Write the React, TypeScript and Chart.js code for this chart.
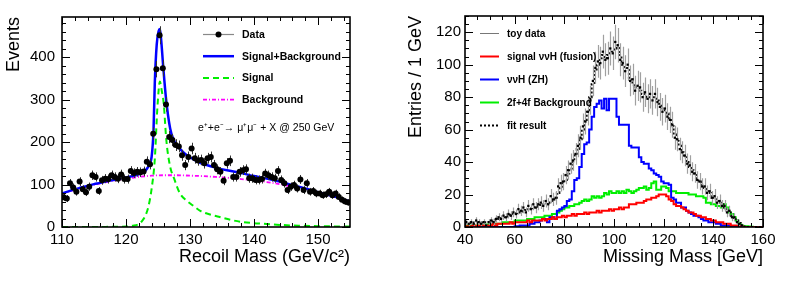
import React, { useEffect, useRef } from "react";
import { Chart, registerables } from "chart.js";

Chart.register(...registerables);

const FONT = "'Liberation Sans', Arial, Helvetica, sans-serif";

// ---------------- Left panel: recoil mass ----------------
const RECOIL_BIN_LOW = 110;
const RECOIL_BIN_WIDTH = 0.5;
const recoilCounts = [
  70, 67, 103, 93, 83, 107, 89, 82, 95, 122,
  118, 85, 110, 114, 113, 122, 118, 114, 124, 113,
  113, 132, 127, 130, 129, 131, 154, 148, 220, 372,
  452, 374, 289, 212, 205, 193, 190, 169, 146, 165,
  185, 162, 157, 158, 150, 162, 165, 146, 136, 130,
  109, 150, 156, 118, 118, 130, 134, 136, 115, 115,
  111, 111, 113, 126, 122, 118, 115, 132, 111, 103,
  87, 95, 99, 91, 112, 87, 103, 83, 85, 79,
  79, 75, 77, 83, 75, 79, 71, 64, 60, 58,
];

const sbX = [110, 111, 112, 113, 114, 115, 116, 117, 118, 119, 120, 121, 122, 122.8, 123.3, 123.7, 124.0, 124.3, 124.5, 124.8, 125.1, 125.3, 125.5, 125.8, 126.25, 126.9, 127.4, 127.9, 128.5, 129.5, 130.5, 131.5, 132.6, 134, 136, 138, 140, 142, 144, 146, 148, 150, 152, 154, 155];
const sbY = [79, 84, 89, 93, 97, 101, 104, 108, 111, 114, 117, 120, 124, 130, 138, 150, 165, 228, 340, 430, 462, 467, 440, 381, 303, 232, 207, 193, 183, 169, 160, 152, 146, 140, 133, 127, 120, 114, 107, 99, 91, 82, 74, 65, 60];

const sigX = [110, 115, 118, 120, 121, 122, 122.5, 123, 123.5, 124, 124.5, 124.9, 125.3, 125.6, 125.9, 126.3, 126.9, 127.5, 128.4, 129.5, 130.5, 131.6, 133, 134.5, 136.3, 138, 140, 142, 144, 147, 150, 155];
const sigY = [0, 0, 0.5, 1, 3, 7, 14, 26, 48, 90, 160, 280, 343, 320, 290, 205, 142, 115, 80, 62, 50, 38, 30, 24, 17, 12, 9, 7, 5, 3, 2, 1];

const bkgX = [110, 112, 114, 116, 118, 120, 122, 124, 126, 128, 130, 132, 134, 136, 138, 140, 142, 144, 146, 148, 150, 152, 154, 155];
const bkgY = [78, 88, 96, 103, 109, 114, 118, 121, 122, 122, 121, 120, 118, 116, 113, 110, 106, 101, 95, 89, 82, 74, 65, 60];

const recoilXTickLabels = [110, 120, 130, 140, 150];
const recoilYTickLabels = [0, 100, 200, 300, 400];
const recoilXTicks = { min: 110, max: 155, step: 10, minor: 2 };
const recoilYTicks = { min: 0, max: 495, step: 100, minor: 20 };

// ---------------- Right panel: missing mass ----------------
const MM_BIN_LOW = 40;
const MM_BIN_WIDTH = 1;
const toyData = [
  3, 2, 3, 2, 4, 3, 2, 3, 1, 3,
  4, 3, 5, 6, 5, 7, 6, 8, 7, 9,
  8, 11, 10, 12, 9, 13, 11, 14, 12, 14,
  15, 13, 16, 14, 19, 17, 18, 25, 27, 28,
  32, 35, 39, 41, 45, 50, 55, 62, 65, 71,
  78, 90, 98, 102, 101, 108, 103, 104, 110, 107,
  114, 112, 103, 101, 96, 100, 90, 91, 84, 87,
  86, 80, 83, 79, 82, 78, 82, 77, 74, 71,
  73, 68, 66, 63, 55, 54, 48, 46, 44, 39,
  38, 34, 33, 29, 28, 25, 25, 21, 22, 18,
  19, 15, 16, 13, 13, 9, 10, 6, 6, 3,
  2, 1, 0, 0, 0, 0, 0, 0, 0, 0,
];
const fitResult = [
  2.5, 2.5, 2.5, 2.7, 2.7, 2.8, 2.8, 3, 3, 3,
  3.5, 4, 4.5, 5, 5.5, 6, 6.5, 7, 7.5, 8,
  8.5, 9, 9.5, 10, 10.5, 11, 11.5, 12, 12.5, 13,
  13.5, 14, 14.5, 15, 16, 17, 18, 21, 24, 27,
  29, 33, 36, 40, 44, 48, 54, 60, 66, 72,
  80, 88, 96, 100, 104, 106, 104, 106, 107, 108,
  110, 112, 106, 100, 98, 98, 92, 89, 86, 86,
  84, 82, 82, 80, 80, 80, 80, 78, 76, 73,
  72, 70, 67, 62, 57, 53, 50, 46, 43, 40,
  37, 35, 32, 30, 28, 26, 24, 22, 21, 19,
  18, 16, 15, 14, 12, 10, 9, 7, 5.5, 4,
  2.5, 1.2, 0.3, 0, 0, 0, 0, 0, 0, 0,
];
const fusionSignal = [
  0.5, 0.5, 0.5, 1, 0.5, 1, 1, 1, 1, 1,
  1, 2, 1, 2, 2, 2, 2, 2, 3, 2,
  3, 3, 3, 3, 3, 4, 3, 4, 4, 4,
  4, 5, 4, 5, 5, 6, 5, 6, 6, 7,
  6, 7, 7, 8, 7, 8, 8, 8, 9, 8,
  9, 9, 9, 10, 9, 10, 10, 10, 11, 10,
  11, 11, 12, 11, 12, 12, 14, 14, 14, 15,
  15, 15, 16, 17, 17, 18, 18, 19, 20, 20,
  20, 19, 17, 16, 14, 13, 13, 12, 11, 10,
  9, 9, 8, 7, 7, 6, 6, 5, 5, 4,
  4, 3, 3, 3, 2, 2, 2, 1, 1, 1,
  0.5, 0.3, 0, 0, 0, 0, 0, 0, 0, 0,
];
const zhSignal = [
  0, 0, 0, 0, 0, 0, 0, 0, 0, 0,
  0, 0, 0, 0, 0, 0, 0, 0, 0, 0,
  0.5, 0.5, 1, 1, 1, 1, 2, 2, 3, 3,
  4, 5, 5, 3, 6, 6, 5, 10, 11, 12,
  13, 16, 17, 22, 29, 30, 37, 45, 51, 52,
  60, 68, 74, 76, 78, 73, 79, 72, 79, 79,
  79, 68, 63, 63, 63, 63, 50, 49, 49, 49,
  43, 40, 39, 39, 36, 35, 33, 32, 31, 28,
  27, 27, 26, 18, 17, 15, 15, 12, 12, 10,
  9, 8, 7, 7, 6, 5, 4, 4, 3, 3,
  3, 2, 2, 1, 1, 1, 1, 0.5, 0.5, 0.5,
  0.5, 0, 0, 0, 0, 0, 0, 0, 0, 0,
];
const bkg2f4f = [
  1, 1, 1, 1, 1, 1, 1, 1, 1.5, 1.5,
  1.5, 2, 2, 2, 2, 3, 3, 3, 3, 3,
  4, 4, 4, 4, 4, 5, 5, 5, 6, 6,
  6, 6, 7, 7, 7, 8, 8, 9, 10, 11,
  12, 12, 13, 13, 14, 14, 15, 16, 17, 16,
  17, 19, 18, 19, 18, 19, 21, 20, 22, 21,
  21, 22, 21, 22, 21, 23, 22, 21, 22, 23,
  24, 24, 25, 23, 24, 27, 28, 23, 23, 25,
  25, 24, 22, 22, 22, 21, 21, 21, 21, 21,
  20, 20, 20, 19, 19, 19, 18, 15, 15, 14,
  14, 13, 13, 12, 14, 12, 9, 8, 6, 4,
  2, 1, 0.5, 0.5, 0.3, 0.2, 0, 0, 0, 0,
];

const mmXTickLabels = [40, 60, 80, 100, 120, 140, 160];
const mmYTickLabels = [0, 20, 40, 60, 80, 100, 120];
const mmXTicks = { min: 40, max: 160, step: 20, minor: 5 };
const mmYTicks = { min: 0, max: 130, step: 20, minor: 5 };

// ---------------- helpers ----------------
const xy = (xs: number[], ys: number[]) => xs.map((x, i) => ({ x, y: ys[i] }));

function histSteps(values: number[], low: number, width: number) {
  const pts = values.map((v, i) => ({ x: low + i * width, y: v }));
  pts.push({ x: low + values.length * width, y: values[values.length - 1] });
  return pts;
}

function binPoints(values: number[], low: number, width: number) {
  return values
    .map((v, i) => ({ x: low + (i + 0.5) * width, y: v, e: Math.sqrt(v) }))
    .filter((p) => p.y > 0);
}

// ---------------- plugins ----------------
const rootFramePlugin = {
  id: "rootFrame",
  afterDatasetsDraw(chart: any, _a: any, opts: any) {
    if (!opts || !opts.x) return;
    const { ctx, chartArea: a, scales } = chart;
    const xs = scales.x;
    const ys = scales.y;
    ctx.save();
    ctx.strokeStyle = "#000";
    ctx.lineWidth = 1;
    ctx.setLineDash([]);
    const ML = opts.majorLen;
    const mL = opts.minorLen;
    const ticks = (t: any) => {
      const out: { v: number; major: boolean }[] = [];
      const n = Math.round((t.max - t.min) / t.minor);
      for (let k = 0; k <= n; k++) {
        const v = t.min + k * t.minor;
        if (v > t.max + 1e-9) break;
        const r = (v - t.min) / t.step;
        out.push({ v, major: Math.abs(r - Math.round(r)) < 1e-6 });
      }
      return out;
    };
    ctx.beginPath();
    for (const t of ticks(opts.x)) {
      const px = Math.round(xs.getPixelForValue(t.v)) + 0.5;
      const len = t.major ? ML : mL;
      ctx.moveTo(px, a.bottom);
      ctx.lineTo(px, a.bottom - len);
      ctx.moveTo(px, a.top);
      ctx.lineTo(px, a.top + len);
    }
    for (const t of ticks(opts.y)) {
      const py = Math.round(ys.getPixelForValue(t.v)) + 0.5;
      const len = t.major ? ML : mL;
      ctx.moveTo(a.left, py);
      ctx.lineTo(a.left + len, py);
      ctx.moveTo(a.right, py);
      ctx.lineTo(a.right - len, py);
    }
    ctx.stroke();
    ctx.lineWidth = 1.6;
    ctx.strokeRect(a.left, a.top, a.right - a.left, a.bottom - a.top);
    ctx.restore();
  },
};

const errorBarPlugin = {
  id: "errorBars",
  beforeDatasetDraw(chart: any, args: any) {
    const ds = chart.data.datasets[args.index];
    if (!ds.errorColor) return;
    const { ctx, chartArea: a } = chart;
    const ys = chart.scales.y;
    ctx.save();
    ctx.beginPath();
    ctx.rect(a.left, a.top, a.right - a.left, a.bottom - a.top);
    ctx.clip();
    ctx.strokeStyle = ds.errorColor;
    ctx.lineWidth = ds.errorWidth || 1;
    ctx.beginPath();
    args.meta.data.forEach((el: any, i: number) => {
      const raw = ds.data[i];
      const px = Math.round(el.x) + 0.5;
      ctx.moveTo(px, ys.getPixelForValue(raw.y + raw.e));
      ctx.lineTo(px, ys.getPixelForValue(raw.y - raw.e));
    });
    ctx.stroke();
    ctx.restore();
  },
};

const rootLegendPlugin = {
  id: "rootLegend",
  afterDraw(chart: any, _a: any, opts: any) {
    if (!opts || !opts.order) return;
    const ctx = chart.ctx;
    ctx.save();
    opts.order.forEach((idx: number, k: number) => {
      const ds = chart.data.datasets[idx];
      const y = opts.top + k * opts.dy;
      ctx.beginPath();
      ctx.setLineDash(ds.legendDash || ds.borderDash || []);
      ctx.strokeStyle = ds.legendLineColor || ds.borderColor;
      ctx.lineWidth = ds.legendLineWidth || ds.borderWidth || 1;
      ctx.moveTo(opts.x0, y + 0.5);
      ctx.lineTo(opts.x1, y + 0.5);
      ctx.stroke();
      ctx.setLineDash([]);
      if (ds.legendMarker) {
        ctx.fillStyle = "#000";
        ctx.beginPath();
        ctx.arc((opts.x0 + opts.x1) / 2, y + 0.5, 3, 0, Math.PI * 2);
        ctx.fill();
      }
      ctx.fillStyle = "#000";
      ctx.font = opts.font;
      ctx.textBaseline = "middle";
      ctx.textAlign = "left";
      ctx.fillText(ds.label, opts.textX, y + 1);
    });
    if (opts.note) {
      ctx.font = opts.note.font;
      ctx.fillStyle = "#000";
      ctx.textBaseline = "middle";
      ctx.textAlign = "left";
      ctx.fillText(opts.note.text, opts.note.x, opts.note.y);
    }
    ctx.restore();
  },
};

function axisScales(
  xt: any,
  yt: any,
  xLabels: number[],
  yLabels: number[],
  xTitle: string,
  yTitle: string,
  yWidth: number,
  xHeight: number,
  yTickPad: number,
  yTitlePad: number,
  xTitlePad: number
) {
  const tickFont = { family: FONT, size: 15 };
  const titleFont = { family: FONT, size: 18 };
  return {
    x: {
      type: "linear",
      min: xt.min,
      max: xt.max,
      grid: { display: false, drawTicks: false },
      border: { display: false },
      ticks: {
        autoSkip: false,
        maxRotation: 0,
        color: "#000",
        font: tickFont,
        padding: 4,
      },
      afterBuildTicks: (s: any) => {
        s.ticks = xLabels.map((v) => ({ value: v }));
      },
      title: {
        display: true,
        text: xTitle,
        align: "end",
        color: "#000",
        font: titleFont,
        padding: { top: 0, bottom: xTitlePad },
      },
      afterFit: (s: any) => {
        s.height = xHeight;
      },
    },
    y: {
      type: "linear",
      min: yt.min,
      max: yt.max,
      grid: { display: false, drawTicks: false },
      border: { display: false },
      ticks: {
        autoSkip: false,
        color: "#000",
        font: tickFont,
        padding: yTickPad,
      },
      afterBuildTicks: (s: any) => {
        s.ticks = yLabels.map((v) => ({ value: v }));
      },
      title: {
        display: true,
        text: yTitle,
        align: "end",
        color: "#000",
        font: titleFont,
        padding: { top: yTitlePad, bottom: 0 },
      },
      afterFit: (s: any) => {
        s.width = yWidth;
      },
    },
  };
}

function leftConfig(): any {
  return {
    type: "line",
    data: {
      datasets: [
        {
          label: "Data",
          data: binPoints(recoilCounts, RECOIL_BIN_LOW, RECOIL_BIN_WIDTH),
          showLine: false,
          pointRadius: 3,
          pointStyle: "circle",
          pointBackgroundColor: "#000",
          pointBorderColor: "#000",
          pointBorderWidth: 0,
          borderColor: "#000",
          errorColor: "#333",
          errorWidth: 1,
          legendMarker: true,
          legendLineColor: "#888",
          legendLineWidth: 1.2,
        },
        {
          label: "Signal+Background",
          data: xy(sbX, sbY),
          borderColor: "#0000ff",
          borderWidth: 2.5,
          pointRadius: 0,
          cubicInterpolationMode: "monotone",
        },
        {
          label: "Signal",
          data: xy(sigX, sigY),
          borderColor: "#00ee00",
          borderWidth: 2,
          borderDash: [6, 4],
          pointRadius: 0,
          cubicInterpolationMode: "monotone",
        },
        {
          label: "Background",
          data: xy(bkgX, bkgY),
          borderColor: "#ff00ff",
          borderWidth: 1.8,
          borderDash: [4, 2, 1, 2],
          pointRadius: 0,
          cubicInterpolationMode: "monotone",
        },
      ],
    },
    options: {
      responsive: false,
      maintainAspectRatio: false,
      animation: false,
      events: [],
      layout: { padding: { left: 0, top: 17, right: 30, bottom: 0 } },
      scales: axisScales(
        recoilXTicks,
        recoilYTicks,
        recoilXTickLabels,
        recoilYTickLabels,
        "Recoil Mass (GeV/c²)",
        "Events",
        62,
        57,
        7,
        3,
        16
      ),
      plugins: {
        legend: { display: false },
        tooltip: { enabled: false },
        rootFrame: { x: recoilXTicks, y: recoilYTicks, majorLen: 8, minorLen: 4 },
        rootLegend: {
          order: [0, 1, 2, 3],
          top: 34,
          dy: 21.7,
          x0: 203,
          x1: 234,
          textX: 242,
          font: `bold 10.5px ${FONT}`,
          note: { text: "e⁺+e⁻→ μ⁺μ⁻ + X @ 250 GeV", x: 198, y: 128, font: `10.5px ${FONT}` },
        },
      },
    },
    plugins: [errorBarPlugin, rootFramePlugin, rootLegendPlugin],
  };
}

function rightConfig(): any {
  return {
    type: "line",
    data: {
      datasets: [
        {
          label: "toy data",
          data: binPoints(toyData, MM_BIN_LOW, MM_BIN_WIDTH),
          showLine: false,
          pointRadius: 1.6,
          pointStyle: "rect",
          pointBackgroundColor: "#000",
          pointBorderColor: "#000",
          pointBorderWidth: 0,
          borderColor: "#777",
          borderWidth: 1,
          errorColor: "#a0a0a0",
          errorWidth: 1.2,
        },
        {
          label: "fit result",
          data: histSteps(fitResult, MM_BIN_LOW, MM_BIN_WIDTH),
          stepped: "before",
          borderColor: "#000",
          borderWidth: 2,
          borderDash: [2, 2],
          pointRadius: 0,
        },
        {
          label: "signal ννH (fusion)",
          data: histSteps(fusionSignal, MM_BIN_LOW, MM_BIN_WIDTH),
          stepped: "before",
          borderColor: "#ff0000",
          borderWidth: 2,
          pointRadius: 0,
        },
        {
          label: "ννH (ZH)",
          data: histSteps(zhSignal, MM_BIN_LOW, MM_BIN_WIDTH),
          stepped: "before",
          borderColor: "#0000ff",
          borderWidth: 2,
          pointRadius: 0,
        },
        {
          label: "2f+4f Background",
          data: histSteps(bkg2f4f, MM_BIN_LOW, MM_BIN_WIDTH),
          stepped: "before",
          borderColor: "#00ee00",
          borderWidth: 2,
          pointRadius: 0,
        },
      ],
    },
    options: {
      responsive: false,
      maintainAspectRatio: false,
      animation: false,
      events: [],
      layout: { padding: { left: 0, top: 16, right: 26, bottom: 0 } },
      scales: axisScales(
        mmXTicks,
        mmYTicks,
        mmXTickLabels,
        mmYTickLabels,
        "Missing Mass [GeV]",
        "Entries / 1 GeV",
        85,
        57,
        4,
        25,
        16
      ),
      plugins: {
        legend: { display: false },
        tooltip: { enabled: false },
        rootFrame: { x: mmXTicks, y: mmYTicks, majorLen: 8, minorLen: 4 },
        rootLegend: {
          order: [0, 2, 3, 4, 1],
          top: 33,
          dy: 23,
          x0: 100,
          x1: 119,
          textX: 127,
          font: `bold 10px ${FONT}`,
        },
      },
    },
    plugins: [errorBarPlugin, rootFramePlugin, rootLegendPlugin],
  };
}

export default function App() {
  const leftRef = useRef<HTMLCanvasElement>(null);
  const rightRef = useRef<HTMLCanvasElement>(null);

  useEffect(() => {
    const c1 = new Chart(leftRef.current as HTMLCanvasElement, leftConfig());
    const c2 = new Chart(rightRef.current as HTMLCanvasElement, rightConfig());
    return () => {
      c1.destroy();
      c2.destroy();
    };
  }, []);

  return (
    <div
      style={{
        position: "absolute",
        left: 0,
        top: 0,
        width: 789,
        height: 284,
        background: "#fff",
        overflow: "hidden",
      }}
    >
      <canvas ref={leftRef} width={380} height={284} style={{ position: "absolute", left: 0, top: 0 }} />
      <canvas ref={rightRef} width={409} height={284} style={{ position: "absolute", left: 380, top: 0 }} />
    </div>
  );
}
